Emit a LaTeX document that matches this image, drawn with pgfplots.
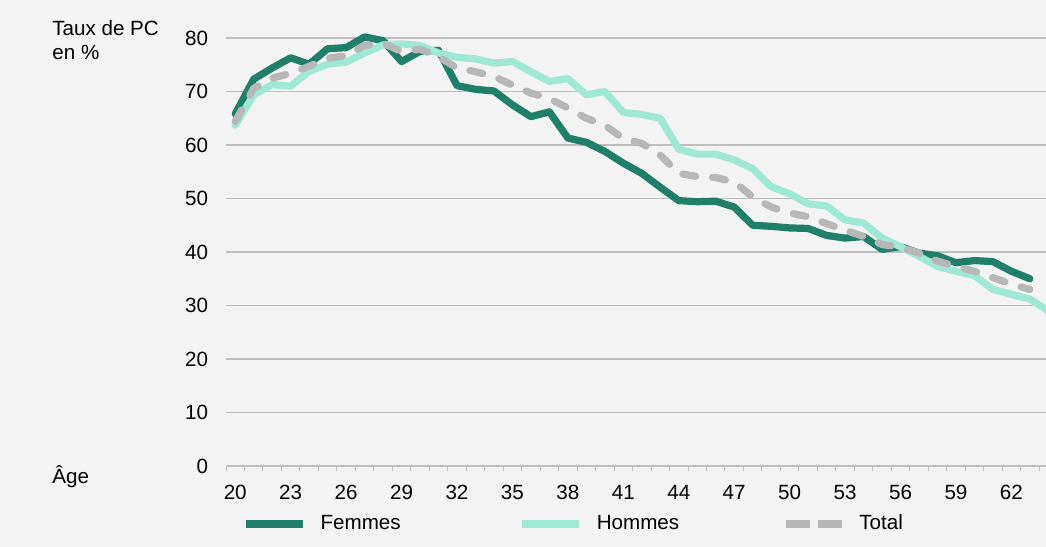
\documentclass[border=0pt]{standalone}
\usepackage{pgfplots}
\pgfplotsset{compat=1.18}
\usepackage{fontspec}
\setmainfont{Liberation Sans}
\definecolor{bg}{RGB}{243,243,243}
\definecolor{gridc}{RGB}{190,190,190}
\definecolor{femc}{RGB}{31,127,104}
\definecolor{homc}{RGB}{160,232,214}
\definecolor{totc}{RGB}{183,183,183}

\pgfplotstableread{
age val
20 65.8
21 72.3
22 74.4
23 76.3
24 75.1
25 78.0
26 78.2
27 80.2
28 79.5
29 75.6
30 77.5
31 77.7
32 71.1
33 70.4
34 70.1
35 67.5
36 65.3
37 66.2
38 61.3
39 60.5
40 58.8
41 56.6
42 54.7
43 52.1
44 49.6
45 49.4
46 49.5
47 48.4
48 45.0
49 44.8
50 44.5
51 44.4
52 43.1
53 42.6
54 42.9
55 40.5
56 41.0
57 39.8
58 39.3
59 38.0
60 38.4
61 38.2
62 36.4
63 35.0
}\femmes

\pgfplotstableread{
age val
20 63.7
21 69.4
22 71.3
23 71.0
24 73.8
25 75.1
26 75.5
27 77.2
28 78.7
29 78.9
30 78.6
31 77.2
32 76.4
33 76.1
34 75.3
35 75.6
36 73.7
37 71.9
38 72.4
39 69.4
40 70.0
41 66.1
42 65.7
43 65.0
44 59.2
45 58.3
46 58.3
47 57.2
48 55.6
49 52.2
50 50.9
51 49.0
52 48.6
53 46.0
54 45.4
55 42.6
56 41.0
57 39.2
58 37.3
59 36.4
60 35.6
61 33.0
62 32.1
63 31.2
64 29.0
}\hommes

\pgfplotstableread{
age val
20 64.4
21 70.6
22 72.5
23 73.4
24 74.7
25 76.2
26 76.7
27 78.6
28 79.0
29 77.5
30 77.9
31 76.5
32 74.4
33 73.7
34 72.8
35 71.2
36 69.7
37 68.7
38 66.9
39 65.0
40 63.7
41 61.2
42 60.3
43 58.1
44 54.7
45 54.1
46 53.9
47 53.1
48 50.3
49 48.4
50 47.3
51 46.6
52 45.3
53 44.1
54 42.9
55 41.4
56 40.9
57 39.8
58 38.3
59 37.3
60 36.4
61 35.2
62 34.0
63 33.0
}\total

\begin{document}
\begin{tikzpicture}[font=\fontsize{10.3bp}{12.4bp}\selectfont]
\fill[bg] (0,0) rectangle (523bp,273.5bp);
\path[use as bounding box] (0,0) rectangle (523bp,273.5bp);
\begin{axis}[
  at={(113bp,40.5bp)}, anchor=south west,
  scale only axis, width=415.8bp, height=214bp,
  xmin=19.5, xmax=64.5, ymin=0, ymax=80,
  clip=false,
  axis line style={draw=none},
  ytick={0,10,...,80},
  xtick={20,23,...,62},
  major tick length=0pt,
  tick pos=left,
  ymajorgrids, grid style={gridc, line width=0.6bp},
  extra x ticks={19.5,20.5,...,64.5},
  extra x tick labels={},
  extra x tick style={major tick length=2.5bp, tick align=outside, grid=none, tick style={gridc, line width=0.5bp}},
  yticklabel style={xshift=-5.5bp},
  xticklabel style={yshift=-6.2bp},
  every tick label/.append style={font=\fontsize{10.3bp}{12.4bp}\selectfont},
  /pgf/number format/assume math mode=true,
  legend style={at={(0.0192,-0.1355)}, anchor=west, legend columns=3, draw=none, fill=none,
    inner sep=0pt, font=\fontsize{10.3bp}{12.4bp}\selectfont,
    /tikz/every odd column/.append style={column sep=5bp},
    /tikz/every even column/.append style={column sep=49.5bp}},
  legend cell align=left,
  legend image code/.code={\draw[#1, line cap=butt] (0bp,0bp) -- (28.5bp,0bp);},
  every axis plot/.append style={line width=3.6bp, line join=round, line cap=round},
]
\draw[gridc, line width=0.6bp] (axis cs:19.5,0) -- (axis cs:64.5,0);
\addplot[femc] table[x=age,y=val] {\femmes};
\addlegendentry{Femmes\rule{7.5bp}{0pt}}
\addplot[homc] table[x=age,y=val] {\hommes};
\addlegendentry{Hommes}
\addplot[totc, dash pattern=on 6.5bp off 8.5bp,
  legend image code/.code={\draw[totc, line width=3.6bp, line cap=butt, dash pattern=on 12bp off 4bp] (0bp,0bp) -- (28bp,0bp);}]
  table[x=age,y=val] {\total};
\addlegendentry{Total}
\end{axis}
\node[anchor=base west, inner sep=0pt] at (26bp,255.8bp) {Taux de PC};
\node[anchor=base west, inner sep=0pt] at (26bp,243.8bp) {en \%};
\node[anchor=base west, inner sep=0pt] at (26bp,32bp) {Âge};
\end{tikzpicture}
\end{document}
